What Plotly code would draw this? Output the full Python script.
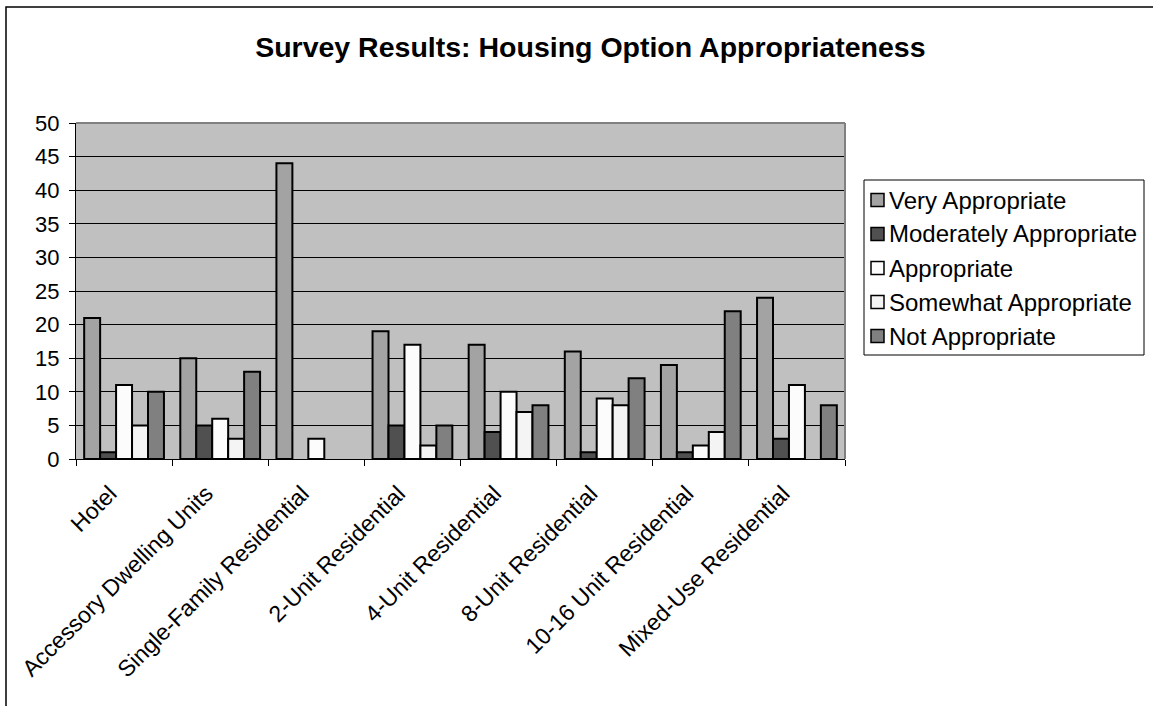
import plotly.graph_objects as go

categories = ["Hotel", "Accessory Dwelling Units", "Single-Family Residential",
              "2-Unit Residential", "4-Unit Residential", "8-Unit Residential",
              "10-16 Unit Residential", "Mixed-Use Residential"]

very_appropriate = [21, 15, 44, 19, 17, 16, 14, 24]
moderately_appropriate = [1, 5, 0, 5, 4, 1, 1, 3]
appropriate = [11, 6, 3, 17, 10, 9, 2, 11]
somewhat_appropriate = [5, 3, 0, 2, 7, 8, 4, 0]
not_appropriate = [10, 13, 0, 5, 8, 12, 22, 8]

series = [
    ("Very Appropriate", very_appropriate, "#A3A3A3"),
    ("Moderately Appropriate", moderately_appropriate, "#505050"),
    ("Appropriate", appropriate, "#FCFCFC"),
    ("Somewhat Appropriate", somewhat_appropriate, "#F4F4F4"),
    ("Not Appropriate", not_appropriate, "#808080"),
]

font = "Liberation Sans, Arial, sans-serif"

# plot area in pixels: x 76..845, y 123..459
L, W, T, H = 76, 769, 123, 336
def px(x):
    return (x - L) / W
def py(y):
    return 1 - (y - T) / H

fig = go.Figure()
for name, vals, col in series:
    # no outline on zero-height bars (Excel draws nothing there)
    widths = [0 if v == 0 else 2 for v in vals]
    fig.add_trace(go.Bar(x=categories, y=vals, name=name, showlegend=False,
                         marker=dict(color=col, line=dict(color="black", width=widths))))

fig.update_layout(
    width=1153, height=706,
    barmode="group", bargap=0.17, bargroupgap=0,
    paper_bgcolor="white", plot_bgcolor="#C0C0C0",
    margin=dict(l=L, r=1153 - L - W, t=T, b=706 - T - H),
    font=dict(family=font, size=22, color="black"),
    title=dict(text="<b>Survey Results: Housing Option Appropriateness</b>",
               x=0.512, xanchor="center", y=0.933, yanchor="middle",
               font=dict(family=font, size=28.5, color="black")),
)

fig.update_xaxes(
    showline=True, linecolor="black", linewidth=1,
    ticks="outside", tickson="boundaries", ticklen=6, tickcolor="black",
    tickangle=-45, showgrid=False, fixedrange=True,
    tickfont=dict(size=23), ticklabelshift=-14, ticklabelstandoff=11,
)
fig.update_yaxes(
    range=[0, 50], dtick=5, showline=True, linecolor="black", linewidth=1,
    ticks="outside", ticklen=6, tickcolor="black",
    showgrid=True, gridcolor="black", gridwidth=1, zeroline=False,
    tickfont=dict(size=22), ticklabelstandoff=5,
)

# plot area top/right border (gray) and outer chart border
fig.add_shape(type="line", xref="paper", yref="paper", x0=0, x1=1, y0=1, y1=1,
              line=dict(color="#808080", width=2))
fig.add_shape(type="line", xref="paper", yref="paper", x0=1, x1=1, y0=0, y1=1,
              line=dict(color="#808080", width=2))
fig.add_shape(type="rect", xref="paper", yref="paper",
              x0=px(6), x1=px(1200), y0=py(730), y1=py(7),
              line=dict(color="black", width=1.5))

# legend box (drawn by hand to match the compact Excel style)
fig.add_shape(type="rect", xref="paper", yref="paper",
              x0=px(864), x1=px(1144), y0=py(355), y1=py(180),
              line=dict(color="black", width=1), fillcolor="white")
for i, (name, vals, col) in enumerate(series):
    yc = 200 + 34 * i
    fig.add_shape(type="rect", xref="paper", yref="paper",
                  x0=px(871), x1=px(884), y0=py(yc + 6.5), y1=py(yc - 6.5),
                  line=dict(color="black", width=1.5), fillcolor=col)
    fig.add_annotation(text=name, xref="paper", yref="paper",
                       x=px(887), y=py(yc), xanchor="left", yanchor="middle",
                       showarrow=False, font=dict(family=font, size=24))

fig.write_html("out.html", config={"displayModeBar": False},
               post_script="document.body.style.margin='0';")
